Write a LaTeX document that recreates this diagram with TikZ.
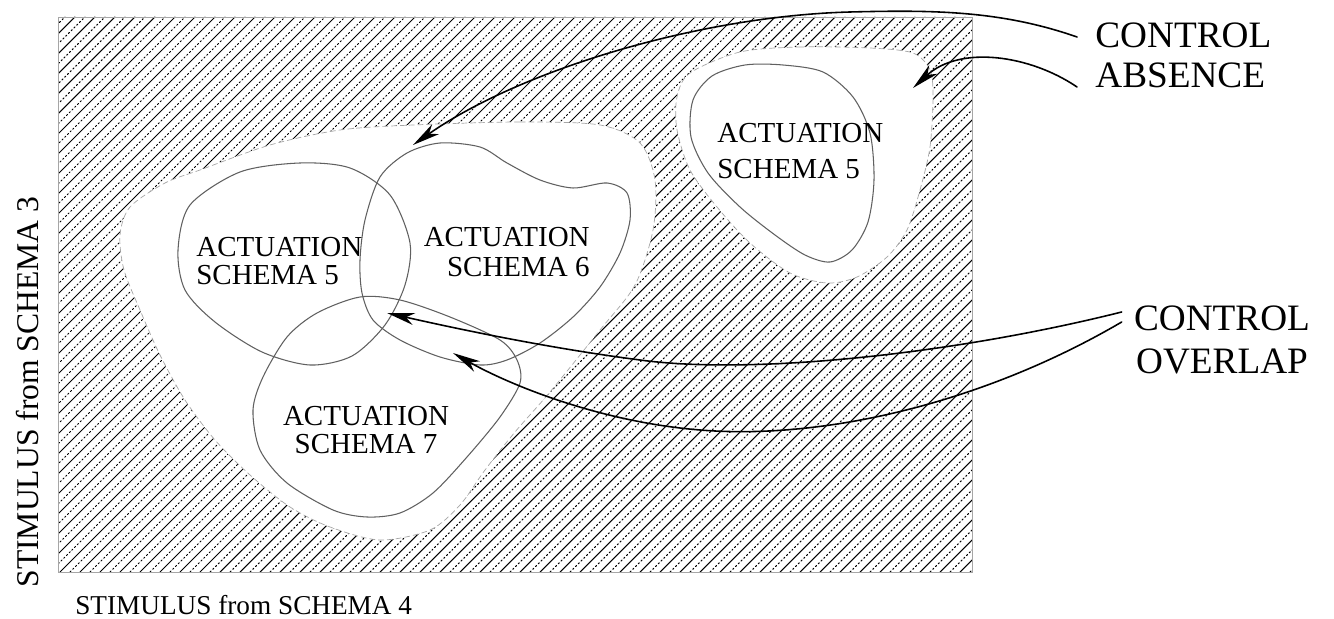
\documentclass[tikz,border=0pt]{standalone}
\usepackage{fontspec}
\setmainfont{Liberation Serif}
\usetikzlibrary{arrows.meta}

\begin{document}
\begin{tikzpicture}[x=0.2mm, y=-0.2mm, line cap=round,
	hatch/.style={line width=0.6pt, black},
	hatchdot/.style={line width=0.6pt, black, dash pattern=on 0.8pt off 1.4pt},
	gap/.style={fill=white, draw=gray!70, densely dashed, line width=0.4pt},
	region/.style={draw=gray!75!black, line width=0.6pt},
	label/.style={inner sep=0pt, font=\fontsize{16.5}{16}\selectfont},
	pointer/.style={-{Stealth[length=5.5mm, width=2.4mm, inset=1.6mm]}, line width=0.9pt}]

	\useasboundingbox (0,0) rectangle (1334,619);

	\begin{scope}
		\clip (58,17) rectangle (972,572);
		\foreach \x in {-500,-480,...,980} {
			\draw[hatch] (\x,572) -- ++(555,-555);
			\draw[hatchdot] (\x+10,572) -- ++(555,-555);
		}
	\end{scope}
	\draw[gray!70, line width=0.5pt] (58,17) rectangle (972,572);

	\draw[gap] plot[smooth cycle] coordinates {(413,125) (520,122) (600,125) (640,143) (655,180) (653,230) (635,285) (600,330) (550,392) (515,432) (485,470) (460,505) (430,530) (380,540) (330,527) (290,507) (250,475) (215,440) (185,400) (160,355) (140,310) (124,270) (120,235) (130,207) (165,183) (200,170) (270,145) (340,130)};
	\draw[gap] plot[smooth cycle] coordinates {(740,52) (800,47) (870,48) (913,53) (930,70) (933,97) (930,147) (920,190) (907,230) (887,257) (857,277) (827,283) (790,273) (750,243) (717,207) (690,170) (677,130) (677,97) (690,73)};

	\draw[region] plot[smooth cycle] coordinates {(178,250) (190,205) (240,172) (300,163) (350,168) (390,195) (410,243) (405,285) (385,325) (352,356) (310,365) (262,352) (215,322) (185,290)};
	\draw[region] plot[smooth cycle] coordinates {(380,177) (407,153) (440,143) (480,147) (507,163) (540,180) (573,188) (607,183) (627,193) (630,220) (620,253) (600,287) (573,317) (540,343) (507,360) (480,365) (440,357) (400,340) (373,320) (362,293) (360,260) (365,220)};
	\draw[region] plot[smooth cycle] coordinates {(360,297) (400,300) (450,317) (500,340) (517,360) (520,383) (500,417) (467,457) (433,493) (400,513) (367,517) (333,510) (287,483) (260,450) (253,410) (263,377) (287,337) (317,313)};
	\draw[region] plot[smooth cycle] coordinates {(783,65) (823,72) (853,97) (870,133) (874,180) (868,222) (852,250) (830,262) (805,255) (775,235) (740,207) (708,173) (691,137) (693,100) (712,76) (745,65)};

	\node[label, anchor=west, align=left] (L5) at (196,261) {ACTUATION\\SCHEMA 5};
	\node[label, anchor=east, align=right, font=\fontsize{16.5}{17}\selectfont] (S6) at (590,252) {ACTUATION\\SCHEMA 6};
	\node[label, align=center] (S7) at (366,430) {ACTUATION\\SCHEMA 7};
	\node[label, anchor=west, align=left, font=\fontsize{16.5}{21}\selectfont] (R5) at (717,151) {ACTUATION\\SCHEMA 5};

	\node[label, anchor=west, align=left, font=\fontsize{21.2}{22.8}\selectfont] (CA) at (1095,55) {CONTROL\\ABSENCE};
	\node[label, align=center, font=\fontsize{21.2}{24.5}\selectfont] (CO) at (1222,340) {CONTROL\\OVERLAP};

	\node[label, anchor=west, font=\fontsize{15.5}{15.5}\selectfont] (SX) at (75,605) {STIMULUS from SCHEMA 4};
	\node[label, rotate=90, font=\fontsize{18}{18}\selectfont] (SY) at (28,392) {STIMULUS from SCHEMA 3};

	\coordinate (tA) at (413,145);
	\coordinate (tB) at (913,88);
	\coordinate (tC) at (387,313);
	\coordinate (tD) at (453,353);

	\draw[pointer] ([shift={(-18,-18)}]CA.west) .. controls (1000,10) and (930,10) .. (850,12) .. controls (700,16) and (520,70) .. (tA);
	\draw[pointer] ([shift={(-18,32)}]CA.west) .. controls (1030,55) and (960,45) .. (tB);
	\draw[pointer] ([shift={(-12,-28)}]CO.west) .. controls (950,355) and (750,375) .. (640,360) .. controls (540,347) and (445,326) .. (tC);
	\draw[pointer] ([shift={(-12,-18)}]CO.west) .. controls (980,405) and (820,440) .. (700,430) .. controls (600,422) and (510,385) .. (tD);

\end{tikzpicture}
\end{document}
